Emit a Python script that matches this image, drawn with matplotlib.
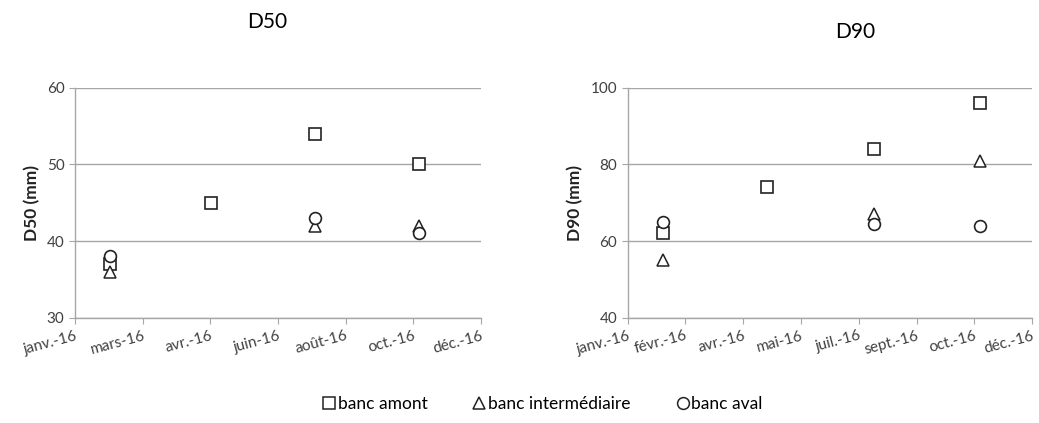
import numpy as np
import matplotlib
matplotlib.use("Agg")
import matplotlib.pyplot as plt
import matplotlib.dates as mdates
from matplotlib.lines import Line2D
from datetime import date, timedelta

plt.rcParams['font.family'] = ['Lato', 'DejaVu Sans']

# sampling dates (same for both panels)
dates = [date(2016, 2, 1), date(2016, 5, 1), date(2016, 8, 1), date(2016, 11, 1)]

# D50 (mm), None = no measurement
d50_amont = [37, 45, 54, 50]
d50_inter = [36, None, 42, 42]
d50_aval = [38, None, 43, 41]

# D90 (mm)
d90_amont = [62, 74, 84, 96]
d90_inter = [55, None, 67, 81]
d90_aval = [65, None, 64.5, 64]

labels_d50 = ["janv.-16", "mars-16", "avr.-16", "juin-16", "août-16", "oct.-16", "déc.-16"]
labels_d90 = ["janv.-16", "févr.-16", "avr.-16", "mai-16", "juil.-16", "sept.-16", "oct.-16", "déc.-16"]

series_names = ["banc amont", "banc intermédiaire", "banc aval"]

GRID = "#a6a6a6"
TXT = "#404040"


def pick(vals):
    xs = [mdates.date2num(d) for d, v in zip(dates, vals) if v is not None]
    ys = [v for v in vals if v is not None]
    return xs, ys


def draw_panel(ax, amont, inter, aval, ylim, yticks, ylabel, step, labels):
    start = date(2016, 1, 1)
    ticks = [mdates.date2num(start + timedelta(days=step * i)) for i in range(len(labels))]
    ax.set_xlim(ticks[0], ticks[-1])
    ax.set_xticks(ticks)
    ax.set_xticklabels(labels, rotation=15, ha='right', rotation_mode='anchor',
                       fontsize=11, color=TXT)
    ax.set_ylim(*ylim)
    ax.set_yticks(yticks)
    ax.tick_params(axis='y', labelsize=11, colors=TXT, length=4, color=GRID)
    ax.tick_params(axis='x', length=4, color=GRID, pad=4)
    for t in ax.get_yticklabels():
        t.set_color(TXT)
    ax.yaxis.grid(True, color=GRID, linewidth=1)
    ax.set_axisbelow(True)
    for s in ['top', 'right']:
        ax.spines[s].set_visible(False)
    for s in ['left', 'bottom']:
        ax.spines[s].set_color(GRID)
        ax.spines[s].set_linewidth(1)
    ax.set_ylabel(ylabel, fontsize=12.5, fontweight='bold', color='#222222', labelpad=5)

    x, y = pick(amont)
    ax.plot(x, y, 's', ms=8, mfc='white', mec='#222222', mew=1.2, zorder=3)
    x, y = pick(inter)
    ax.plot(x, y, '^', ms=8.5, mfc='white', mec='#222222', mew=1.1, zorder=3)
    x, y = pick(aval)
    ax.plot(x, y, 'o', ms=8.5, mfc='white', mec='#222222', mew=1.2, zorder=4)


fig = plt.figure(figsize=(10.39, 4.23), dpi=100)
ax1 = fig.add_axes([0.0722, 0.249, 0.3908, 0.5437])
ax2 = fig.add_axes([0.604, 0.249, 0.3894, 0.5437])

draw_panel(ax1, d50_amont, d50_inter, d50_aval, (30, 60), [30, 40, 50, 60], "D50 (mm)", 60, labels_d50)
draw_panel(ax2, d90_amont, d90_inter, d90_aval, (40, 100), [40, 60, 80, 100], "D90 (mm)", 50, labels_d90)

fig.text(267 / 1039, 1 - 22 / 423, "D50", ha='center', va='center', fontsize=15)
fig.text(855 / 1039, 1 - 32 / 423, "D90", ha='center', va='center', fontsize=15)

handles = [
    Line2D([], [], ls='none', marker='s', ms=8, mfc='white', mec='#222222', mew=1.1),
    Line2D([], [], ls='none', marker='^', ms=8.5, mfc='white', mec='#222222', mew=1.1),
    Line2D([], [], ls='none', marker='o', ms=8.5, mfc='white', mec='#222222', mew=1.1),
]
fig.legend(handles, series_names, loc='center', bbox_to_anchor=(0.522, 1 - 404 / 423), ncol=3,
           frameon=False, fontsize=12.5, handlelength=0.8, handletextpad=0.1, columnspacing=2.6)

fig.savefig("out.png", dpi=100)
